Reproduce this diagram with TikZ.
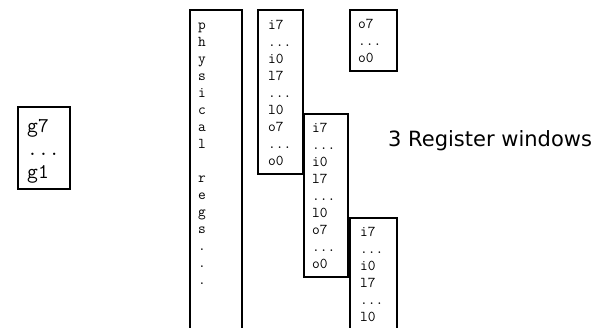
\documentclass[tikz,border=0pt]{standalone}
\usepackage{fontspec}
\newfontfamily\labf{DejaVu Sans}
\newcommand\mydots{...}
\begin{document}
\begin{tikzpicture}[x=1pt,y=-1pt,
  box/.style={draw, line width=2pt, rectangle, anchor=north west, inner sep=0pt, outer sep=0pt},
  sm/.style={anchor=base west, inner sep=0pt, font=\ttfamily\fontsize{15}{17}\selectfont},
  bg/.style={anchor=base west, inner sep=0pt, font=\ttfamily\fontsize{21}{23}\selectfont},
  lab/.style={anchor=base west, inner sep=0pt, font=\labf\fontsize{21}{25}\selectfont}]
\useasboundingbox (0,0) rectangle (601,327);
% boxes
\node[box, minimum width=52pt, minimum height=82pt] (g) at (18,107) {};
\node[box, minimum width=52pt, minimum height=340pt] (phys) at (190,10) {};
\node[box, minimum width=45pt, minimum height=164pt] (w1) at (258,10) {};
\node[box, minimum width=44pt, minimum height=163pt] (w2) at (304,114) {};
\node[box, minimum width=47pt, minimum height=140pt] (w3) at (350,218) {};
\node[box, minimum width=47pt, minimum height=61pt] (ob) at (350,10) {};
% texts
\foreach \t [count=\k from 0] in {g7,\mydots,g1}
  \node[bg] (g-\k) at (27,132+23*\k) {\t};
\foreach \t [count=\k from 0] in {p,h,y,s,i,c,a,l,{},r,e,g,s,.,.,.}
  \node[sm] (ph-\k) at (198,29+17*\k) {\t};
\foreach \t [count=\k from 0] in {i7,\mydots,i0,l7,\mydots,l0,o7,\mydots,o0}
  \node[sm] (wa-\k) at (268,29+17*\k) {\t};
\foreach \t [count=\k from 0] in {i7,\mydots,i0,l7,\mydots,l0,o7,\mydots,o0}
  \node[sm] (wb-\k) at (312,132+17*\k) {\t};
\foreach \t [count=\k from 0] in {i7,\mydots,i0,l7,\mydots,l0}
  \node[sm] (wc-\k) at (360,236+17*\k) {\t};
\foreach \t [count=\k from 0] in {o7,\mydots,o0}
  \node[sm] (o-\k) at (358,28+17*\k) {\t};
\node[lab] (title) at (388,146) {3 Register windows};
\end{tikzpicture}
\end{document}
